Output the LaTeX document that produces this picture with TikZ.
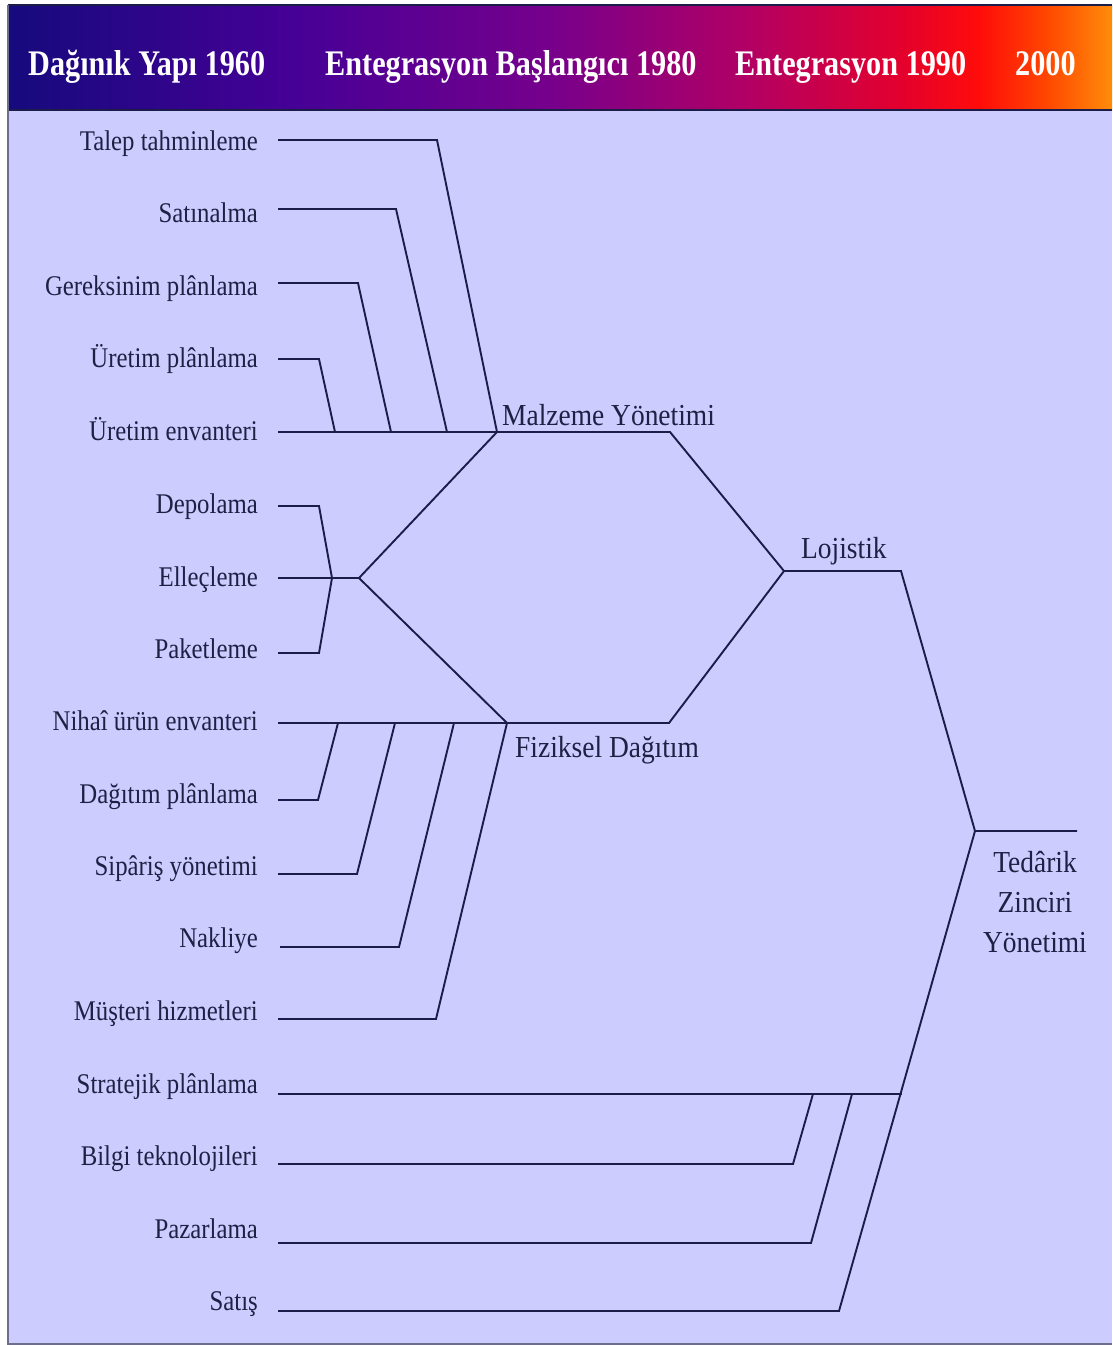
\documentclass[tikz,border=0pt]{standalone}
\usepackage{fontspec}
\setmainfont{Liberation Serif}
\newfontfamily\hdrfont[FakeStretch=0.84]{Liberation Serif}
\newfontfamily\itemfont[FakeStretch=0.87]{Liberation Serif}
\newfontfamily\catfont[FakeStretch=0.90]{Liberation Serif}

\definecolor{panel}{RGB}{204,204,255}
\definecolor{ink}{RGB}{28,28,72}
\definecolor{txt}{RGB}{32,32,68}
\definecolor{rim}{RGB}{110,110,140}
\definecolor{h0}{RGB}{22,10,125}
\definecolor{h1}{RGB}{70,0,150}
\definecolor{h2}{RGB}{118,0,140}
\definecolor{h3}{RGB}{178,0,100}
\definecolor{h4}{RGB}{228,0,45}
\definecolor{h5}{RGB}{255,12,10}
\definecolor{h6}{RGB}{255,70,0}
\definecolor{h7}{RGB}{255,140,10}

% left-to-right band colours of the title strip
\pgfdeclarehorizontalshading{titleband}{100bp}{%
  color(0bp)=(h0); color(25bp)=(h0); color(38bp)=(h1); color(49.5bp)=(h2);
  color(58.5bp)=(h3); color(65.5bp)=(h4); color(69bp)=(h5); color(72bp)=(h6);
  color(75bp)=(h7); color(100bp)=(h7)}

\tikzset{
  link/.style={draw=ink, line width=1.9pt, line join=miter},
  itemlbl/.style={anchor=base east, inner sep=0pt, text=txt,
    font={\itemfont\fontsize{28.5}{32}\selectfont}},
  catlbl/.style={anchor=base west, inner sep=0pt, text=txt,
    font={\catfont\fontsize{30.5}{34}\selectfont}},
  sclbl/.style={anchor=base, inner sep=0pt, text=txt,
    font={\catfont\fontsize{30.5}{34}\selectfont}},
  hdrlbl/.style={anchor=base west, inner sep=0pt, text=white,
    font={\hdrfont\bfseries\fontsize{36}{40}\selectfont}}
}

\begin{document}
\begin{tikzpicture}[x=1pt,y=-1pt]
\useasboundingbox (0,0) rectangle (1112,1345);
\fill[white] (0,0) rectangle (1112,1345);

% panel and title strip
\fill[panel] (8,110) rectangle (1112,1344);
\shade[shading=titleband] (8,5) rectangle (1112,110);
\draw[ink, line width=1.5pt] (8,5) -- (1112,5);
\draw[ink, line width=1.5pt] (8,110) -- (1112,110);
\draw[rim, line width=1.5pt] (8,5) -- (8,1344) -- (1112,1344);

% title strip labels
\node[hdrlbl] (h1960) at (28,75) {Dağınık Yapı 1960};
\node[hdrlbl] (h1980) at (325,75) {Entegrasyon Başlangıcı 1980};
\node[hdrlbl] (h1990) at (735,75) {Entegrasyon 1990};
\node[hdrlbl] (h2000) at (1015,75) {2000};

% activity labels
\node[itemlbl] (i1)  at (258,150)  {Talep tahminleme};
\node[itemlbl] (i2)  at (258,222)  {Satınalma};
\node[itemlbl] (i3)  at (258,295)  {Gereksinim plânlama};
\node[itemlbl] (i4)  at (258,367)  {Üretim plânlama};
\node[itemlbl] (i5)  at (258,440)  {Üretim envanteri};
\node[itemlbl] (i6)  at (258,513)  {Depolama};
\node[itemlbl] (i7)  at (258,586)  {Elleçleme};
\node[itemlbl] (i8)  at (258,658)  {Paketleme};
\node[itemlbl] (i9)  at (258,730)  {Nihaî ürün envanteri};
\node[itemlbl] (i10) at (258,803)  {Dağıtım plânlama};
\node[itemlbl] (i11) at (258,875)  {Sipâriş yönetimi};
\node[itemlbl] (i12) at (258,947)  {Nakliye};
\node[itemlbl] (i13) at (258,1020) {Müşteri hizmetleri};
\node[itemlbl] (i14) at (258,1093) {Stratejik plânlama};
\node[itemlbl] (i15) at (258,1165) {Bilgi teknolojileri};
\node[itemlbl] (i16) at (258,1238) {Pazarlama};
\node[itemlbl] (i17) at (258,1310) {Satış};

% merge points
\coordinate (mz) at (497,432);
\coordinate (pk) at (359,578);
\coordinate (fd) at (507,723);
\coordinate (lj) at (784,571);
\coordinate (tz) at (975,831);
\coordinate (mzr) at (670,432);
\coordinate (fdr) at (669,723);
\coordinate (ljr) at (901,571);
\coordinate (tzr) at (1077,831);

% group labels
\node[catlbl] (cmz) at (502,425) {Malzeme Yönetimi};
\node[catlbl] (cfd) at (515,757) {Fiziksel Dağıtım};
\node[catlbl] (clj) at (801,558) {Lojistik};
\node[sclbl] (ctz1) at (1035,872) {Tedârik};
\node[sclbl] (ctz2) at (1035,912) {Zinciri};
\node[sclbl] (ctz3) at (1035,952) {Yönetimi};

% materials branch
\coordinate (a1) at (278,140); \coordinate (a1c) at (437,140);
\coordinate (a2) at (278,209); \coordinate (a2c) at (396,209); \coordinate (a2e) at (447,432);
\coordinate (a3) at (278,283); \coordinate (a3c) at (358,283); \coordinate (a3e) at (391,432);
\coordinate (a4) at (278,359); \coordinate (a4c) at (319,359); \coordinate (a4e) at (335,432);
\coordinate (a5) at (278,432);
\draw[link] (a1) -- (a1c) -- (mz);
\draw[link] (a2) -- (a2c) -- (a2e);
\draw[link] (a3) -- (a3c) -- (a3e);
\draw[link] (a4) -- (a4c) -- (a4e);
\draw[link] (a5) -- (mz);

% storage and handling branch
\coordinate (b1) at (278,506); \coordinate (b1c) at (319,506);
\coordinate (b2) at (278,578); \coordinate (bm) at (332,578);
\coordinate (b3) at (278,653); \coordinate (b3c) at (319,653);
\draw[link] (b1) -- (b1c) -- (bm) -- (b3c) -- (b3);
\draw[link] (b2) -- (pk);
\draw[link] (mz) -- (pk) -- (fd);

% physical distribution branch
\coordinate (c1) at (278,723);
\coordinate (c2) at (278,800);  \coordinate (c2c) at (318,800);  \coordinate (c2e) at (338,723);
\coordinate (c3) at (278,874);  \coordinate (c3c) at (357,874);  \coordinate (c3e) at (395,723);
\coordinate (c4) at (280,947);  \coordinate (c4c) at (399,947);  \coordinate (c4e) at (454,723);
\coordinate (c5) at (278,1019); \coordinate (c5c) at (436,1019);
\draw[link] (c1) -- (fd);
\draw[link] (c2) -- (c2c) -- (c2e);
\draw[link] (c3) -- (c3c) -- (c3e);
\draw[link] (c4) -- (c4c) -- (c4e);
\draw[link] (c5) -- (c5c) -- (fd);

% logistics and supply chain
\draw[link] (mz) -- (mzr) -- (lj);
\draw[link] (fd) -- (fdr) -- (lj);
\draw[link] (lj) -- (ljr) -- (tz) -- (tzr);

% supply chain branch
\coordinate (d1) at (278,1094); \coordinate (d1e) at (902,1094);
\coordinate (d2) at (278,1164); \coordinate (d2c) at (793,1164); \coordinate (d2e) at (813,1094);
\coordinate (d3) at (278,1243); \coordinate (d3c) at (811,1243); \coordinate (d3e) at (852,1094);
\coordinate (d4) at (278,1311); \coordinate (d4c) at (839,1311);
\draw[link] (d1) -- (d1e);
\draw[link] (d2) -- (d2c) -- (d2e);
\draw[link] (d3) -- (d3c) -- (d3e);
\draw[link] (d4) -- (d4c) -- (tz);
\end{tikzpicture}
\end{document}
